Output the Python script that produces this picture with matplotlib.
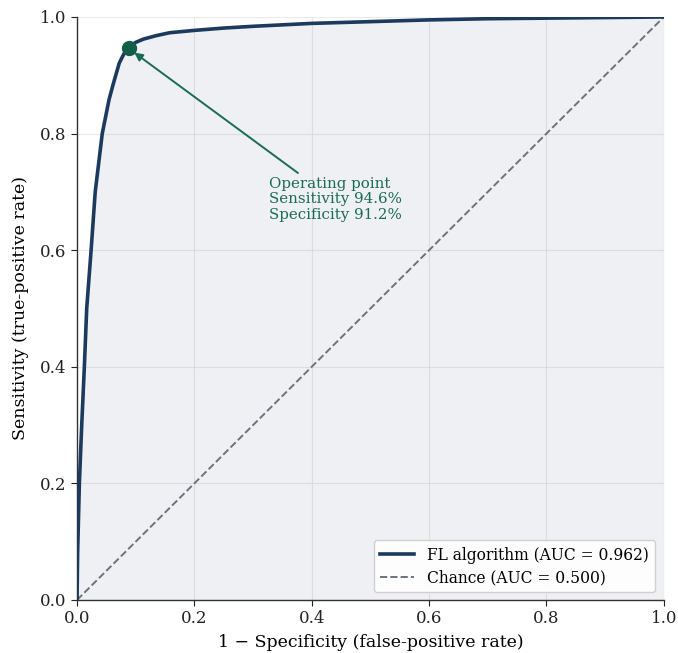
import matplotlib
matplotlib.use("Agg")
import matplotlib.pyplot as plt

fpr = [0, 0.001, 0.002, 0.004, 0.008, 0.0125, 0.0165, 0.024, 0.031, 0.043, 0.0545, 0.062,
       0.072, 0.080, 0.088, 0.099, 0.113, 0.135, 0.158, 0.2, 0.25, 0.3, 0.4, 0.5,
       0.6, 0.7, 0.8, 0.9, 1.0]
tpr = [0, 0.08, 0.12, 0.20, 0.30, 0.40, 0.50, 0.60, 0.70, 0.80, 0.858, 0.886,
       0.921, 0.937, 0.946, 0.956, 0.962, 0.968, 0.973, 0.977, 0.981, 0.984, 0.989, 0.992,
       0.995, 0.997, 0.998, 0.999, 1.0]
chance = [0, 1]
op_fpr, op_tpr = 0.088, 0.946
auc_model = 0.962
auc_chance = 0.500

plt.rcParams['font.family'] = ['DejaVu Serif']
navy = '#1c3a5e'
green = '#1a6b55'

fig = plt.figure(figsize=(6.78, 6.53), dpi=100)
ax = fig.add_axes([0.1136, 0.0812, 0.8655, 0.8928])

ax.fill_between(fpr, tpr, 0, color=navy, alpha=0.075, linewidth=0, zorder=1)
ax.plot(fpr, tpr, color=navy, lw=2.6, label=f'FL algorithm (AUC = {auc_model:.3f})', zorder=3,
        solid_joinstyle='round')
ax.plot(chance, chance, color='#6b7280', lw=1.4, ls='--', label=f'Chance (AUC = {auc_chance:.3f})', zorder=2)
ax.plot([op_fpr], [op_tpr], 'o', color='#135e48', markersize=10, zorder=4)
ax.annotate('', xy=(op_fpr, op_tpr), xytext=(0.3765, 0.7324),
            arrowprops=dict(arrowstyle='-|>', color=green, lw=1.4,
                            shrinkA=0, shrinkB=5, mutation_scale=12), zorder=5)
ax.text(0.327, 0.726, 'Operating point\nSensitivity 94.6%\nSpecificity 91.2%',
        fontsize=10.8, color=green, ha='left', va='top', linespacing=1.15, zorder=5)

ax.set_xlim(0, 1)
ax.set_ylim(0, 1)
ax.set_xticks([0, 0.2, 0.4, 0.6, 0.8, 1.0])
ax.set_yticks([0, 0.2, 0.4, 0.6, 0.8, 1.0])
ax.grid(True, color='#e3e3e3', lw=0.8, alpha=0.7, zorder=0)
ax.set_axisbelow(True)
for s in ['top', 'right']:
    ax.spines[s].set_visible(False)
for s in ['left', 'bottom']:
    ax.spines[s].set_color('#333333')
    ax.spines[s].set_linewidth(1.0)
ax.tick_params(labelsize=12, colors='#222222', length=4)
ax.set_xlabel('1 − Specificity (false-positive rate)', fontsize=12.5, labelpad=5)
ax.set_ylabel('Sensitivity (true-positive rate)', fontsize=12.5, labelpad=8)
leg = ax.legend(loc='lower right', fontsize=11.2, frameon=True, fancybox=True,
                edgecolor='#cccccc', framealpha=0.9, borderpad=0.4, labelspacing=0.35,
                handlelength=2.2, bbox_to_anchor=(0.998, 0.0))
fig.savefig('out.png', dpi=100)
